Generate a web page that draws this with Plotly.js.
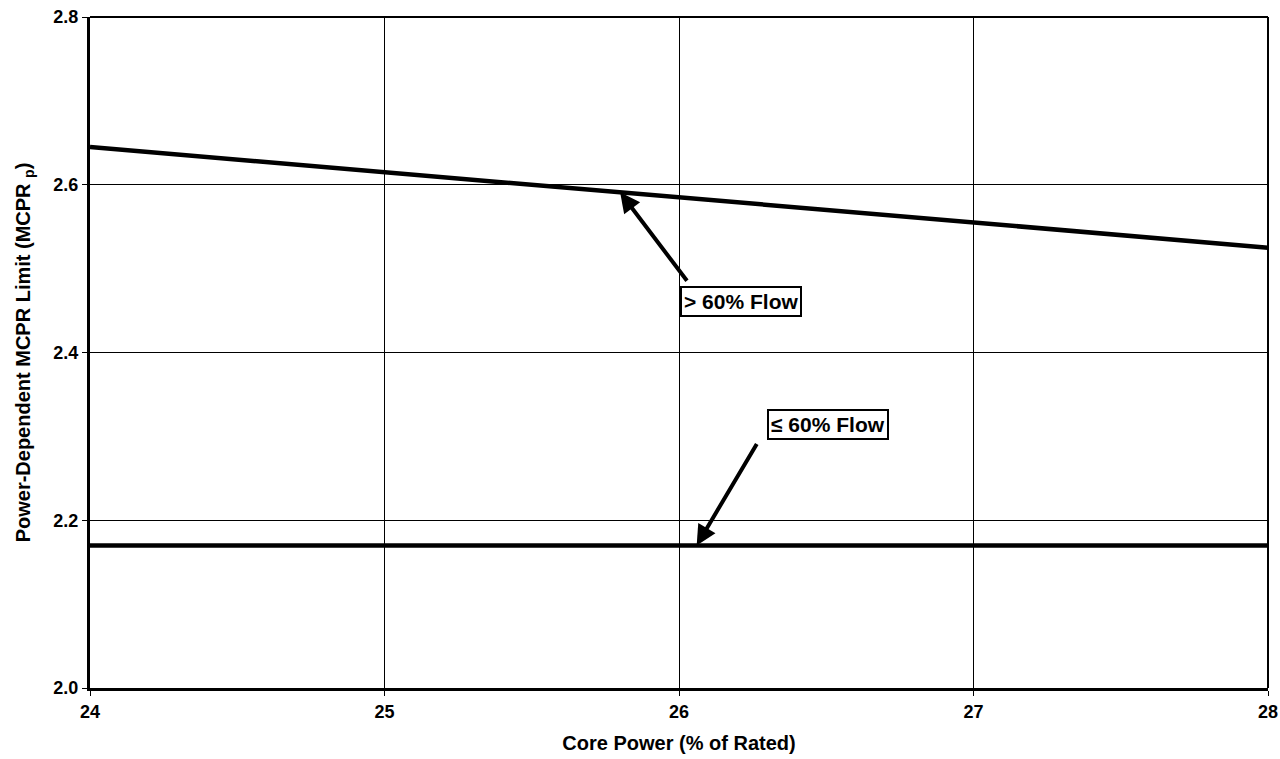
<!DOCTYPE html>
<html>
<head>
<meta charset="utf-8">
<script src="https://cdn.plot.ly/plotly-3.0.1.min.js"></script>
<style>html,body{margin:0;padding:0;background:#fff;}#chart{width:1280px;height:759px;}</style>
</head>
<body>
<div id="chart"></div>
<script>
// Core power (% of rated) endpoints
const corePower = [24, 28];
// MCPR_p limit for > 60% flow
const mcprHighFlow = [2.645, 2.525];
// MCPR_p limit for <= 60% flow
const mcprLowFlow = [2.17, 2.17];
// tick values / labels
const xTicks = [24, 25, 26, 27, 28];
const xTickText = ["24", "25", "26", "27", "28"];
const yTicks = [2.0, 2.2, 2.4, 2.6, 2.8];
const yTickText = ["2.0", "2.2", "2.4", "2.6", "2.8"];
// annotation labels and the core power where each arrow touches its line
const labels = ["> 60% Flow", "\u2264 60% Flow"];
const tipX = [25.80, 26.06];

const font = "Liberation Sans, Arial, sans-serif";

const traces = [
  {x: corePower, y: mcprHighFlow, mode: "lines", line: {color: "#000", width: 4.5}, hoverinfo: "skip", showlegend: false},
  {x: corePower, y: mcprLowFlow, mode: "lines", line: {color: "#000", width: 4.5}, hoverinfo: "skip", showlegend: false}
];

function lineAt(xs, ys, x) {
  return ys[0] + (ys[1] - ys[0]) * (x - xs[0]) / (xs[1] - xs[0]);
}

const arrowStyle = {xref: "x", yref: "y", showarrow: true, text: "",
  arrowhead: 2, arrowsize: 1, arrowwidth: 4, arrowcolor: "#000", standoff: 0, startstandoff: 0};
const boxStyle = {xref: "x", yref: "y", showarrow: false,
  bordercolor: "#000", borderwidth: 2, borderpad: 2, bgcolor: "#fff",
  font: {family: font, size: 21, color: "#000"}};

const tickFont = {family: font, size: 18, color: "#000", weight: 700};

const layout = {
  width: 1280, height: 759,
  margin: {l: 90, r: 12, t: 17, b: 71},
  paper_bgcolor: "#fff", plot_bgcolor: "#fff",
  font: {family: font, color: "#000"},
  xaxis: {
    range: [24, 28], tickmode: "array", tickvals: xTicks, ticktext: xTickText,
    showgrid: true, gridcolor: "#000", gridwidth: 1,
    zeroline: false, showline: true, linecolor: "#000", linewidth: 3,
    ticks: "outside", ticklen: 5, tickcolor: "#000", tickwidth: 1,
    tickfont: tickFont,
    title: {text: "<b>Core Power (% of Rated)</b>", font: {family: font, size: 20, color: "#000"}, standoff: 16}
  },
  yaxis: {
    range: [2.0, 2.8], tickmode: "array", tickvals: yTicks, ticktext: yTickText,
    showgrid: true, gridcolor: "#000", gridwidth: 1,
    zeroline: false, showline: true, linecolor: "#000", linewidth: 3,
    ticks: "outside", ticklen: 5, tickcolor: "#000", tickwidth: 1,
    tickfont: tickFont,
    title: {text: "<b>Power-Dependent MCPR Limit (MCPR <sub>p</sub>)</b>", font: {family: font, size: 20, color: "#000"}, standoff: 18}
  },
  shapes: [
    {type: "line", xref: "paper", yref: "paper", x0: 0, x1: 1, y0: 1, y1: 1, line: {color: "#000", width: 2}},
    {type: "line", xref: "paper", yref: "paper", x0: 1, x1: 1, y0: 0, y1: 1, line: {color: "#000", width: 2}}
  ],
  annotations: [
    Object.assign({}, arrowStyle, {x: tipX[0], y: lineAt(corePower, mcprHighFlow, tipX[0]), ax: 68, ay: 90}),
    Object.assign({}, arrowStyle, {x: tipX[1], y: lineAt(corePower, mcprLowFlow, tipX[1]), ax: 61, ay: -103}),
    Object.assign({}, boxStyle, {x: 26.21, y: 2.461, text: "<b>" + labels[0] + "</b>"}),
    Object.assign({}, boxStyle, {x: 26.506, y: 2.314, text: "<b>" + labels[1] + "</b>"})
  ]
};

Plotly.newPlot("chart", traces, layout, {staticPlot: true, displayModeBar: false});
</script>
</body>
</html>
